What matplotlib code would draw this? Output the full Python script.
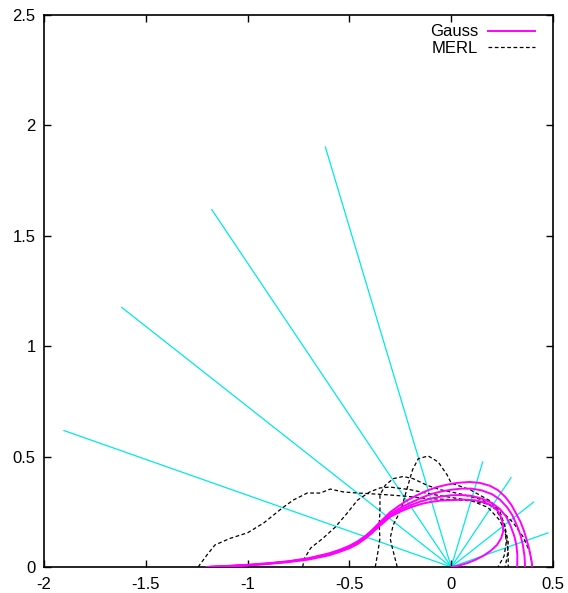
import numpy as np
import matplotlib
matplotlib.use("Agg")
import matplotlib.pyplot as plt
from matplotlib.ticker import FuncFormatter

# incident / reflected directions (degrees from the normal) and ray lengths
ray_angles = [18, 36, 54, 72]
incident_length = 2.0
reflected_length = 0.5

# Gauss model lobes (x, y)
gauss_1_x = [-1.2, -1.1, -1.0, -0.9, -0.8, -0.7, -0.6, -0.55, -0.5, -0.46, -0.42, -0.39, -0.36, -0.33, -0.3,
             -0.26, -0.216, -0.17, -0.118, -0.07, -0.02, 0.03, 0.09, 0.14, 0.19, 0.23, 0.265, 0.295, 0.32, 0.34,
             0.357, 0.37, 0.382, 0.391, 0.396, 0.398]
gauss_1_y = [0.0, 0.005, 0.01, 0.017, 0.026, 0.04, 0.062, 0.077, 0.096, 0.116, 0.142, 0.166, 0.194, 0.221, 0.248,
             0.275, 0.302, 0.324, 0.346, 0.362, 0.373, 0.381, 0.385, 0.381, 0.368, 0.348, 0.318, 0.282, 0.24, 0.205,
             0.165, 0.125, 0.085, 0.045, 0.02, 0.0]
gauss_2_x = [-1.2, -1.1, -1.0, -0.9, -0.8, -0.7, -0.6, -0.55, -0.5, -0.46, -0.42, -0.39, -0.36, -0.33, -0.3,
             -0.25, -0.2, -0.15, -0.1, -0.05, 0.0, 0.05, 0.1, 0.15, 0.2, 0.24, 0.275, 0.3, 0.322, 0.34, 0.352,
             0.36, 0.363]
gauss_2_y = [0.0, 0.004, 0.009, 0.016, 0.025, 0.038, 0.059, 0.074, 0.092, 0.112, 0.138, 0.162, 0.189, 0.214, 0.24,
             0.268, 0.291, 0.312, 0.33, 0.342, 0.35, 0.355, 0.355, 0.347, 0.33, 0.305, 0.27, 0.235, 0.19, 0.145,
             0.1, 0.05, 0.0]
gauss_3_x = [-1.2, -1.1, -1.0, -0.9, -0.8, -0.7, -0.6, -0.55, -0.5, -0.46, -0.42, -0.39, -0.36, -0.33, -0.3,
             -0.25, -0.2, -0.15, -0.1, -0.05, 0.0, 0.05, 0.1, 0.15, 0.2, 0.24, 0.27, 0.292, 0.31, 0.32, 0.325, 0.324]
gauss_3_y = [0.0, 0.004, 0.008, 0.015, 0.024, 0.036, 0.056, 0.071, 0.088, 0.108, 0.134, 0.158, 0.184, 0.208, 0.233,
             0.259, 0.28, 0.297, 0.31, 0.319, 0.325, 0.326, 0.322, 0.31, 0.29, 0.262, 0.228, 0.185, 0.14, 0.1,
             0.055, 0.0]
gauss_4_x = [-1.2, -1.1, -1.0, -0.9, -0.8, -0.7, -0.6, -0.55, -0.5, -0.46, -0.42, -0.39, -0.36, -0.33, -0.3,
             -0.25, -0.2, -0.15, -0.1, -0.05, 0.0, 0.06, 0.118, 0.165, 0.2, 0.228, 0.245, 0.255, 0.255, 0.245,
             0.225, 0.195, 0.16, 0.12, 0.08, 0.04, 0.0]
gauss_4_y = [0.0, 0.003, 0.007, 0.014, 0.022, 0.034, 0.053, 0.068, 0.085, 0.104, 0.13, 0.153, 0.179, 0.203, 0.227,
             0.251, 0.27, 0.285, 0.295, 0.301, 0.303, 0.305, 0.302, 0.292, 0.278, 0.255, 0.225, 0.19, 0.16, 0.13,
             0.1, 0.074, 0.052, 0.033, 0.018, 0.007, 0.0]

# MERL measured lobes (x, y)
merl_1_x = [-1.243, -1.2, -1.16, -1.085, -1.0, -0.92, -0.83, -0.776, -0.707, -0.643, -0.594, -0.53, -0.46,
            -0.363, -0.285, -0.216, -0.118, 0.0, 0.1, 0.18, 0.24, 0.305, 0.354, 0.388, 0.398]
merl_1_y = [0.0, 0.054, 0.1, 0.13, 0.155, 0.2, 0.267, 0.303, 0.335, 0.335, 0.353, 0.34, 0.335,
            0.33, 0.325, 0.32, 0.31, 0.305, 0.3, 0.285, 0.26, 0.2, 0.136, 0.063, 0.0]
merl_2_x = [-0.73, -0.72, -0.69, -0.63, -0.57, -0.51, -0.46, -0.4, -0.35, -0.3, -0.2, -0.1, 0.0, 0.1, 0.18,
            0.24, 0.27, 0.28, 0.28]
merl_2_y = [0.0, 0.04, 0.086, 0.13, 0.18, 0.245, 0.303, 0.34, 0.358, 0.362, 0.35, 0.33, 0.315, 0.3, 0.27,
            0.21, 0.14, 0.07, 0.0]
merl_3_x = [-0.373, -0.36, -0.35, -0.354, -0.35, -0.35, -0.324, -0.285, -0.236, -0.187, -0.118, -0.054, 0.05,
            0.15, 0.22, 0.262, 0.28, 0.276, 0.265]
merl_3_y = [0.0, 0.068, 0.13, 0.19, 0.25, 0.326, 0.37, 0.40, 0.41, 0.40, 0.37, 0.35, 0.33,
            0.305, 0.26, 0.19, 0.113, 0.054, 0.0]
merl_4_x = [-0.265, -0.29, -0.3, -0.285, -0.26, -0.24, -0.216, -0.19, -0.162, -0.113, -0.064, -0.02, 0.0,
            0.093, 0.19, 0.24, 0.265, 0.27, 0.26, 0.23]
merl_4_y = [0.0, 0.09, 0.13, 0.19, 0.235, 0.28, 0.358, 0.44, 0.49, 0.503, 0.476, 0.417, 0.38,
            0.35, 0.3, 0.25, 0.18, 0.11, 0.05, 0.0]

gauss_curves = [(gauss_1_x, gauss_1_y), (gauss_2_x, gauss_2_y), (gauss_3_x, gauss_3_y), (gauss_4_x, gauss_4_y)]
merl_curves = [(merl_1_x, merl_1_y), (merl_2_x, merl_2_y), (merl_3_x, merl_3_y), (merl_4_x, merl_4_y)]

x_ticks = [-2, -1.5, -1, -0.5, 0, 0.5]
y_ticks = [0, 0.5, 1, 1.5, 2, 2.5]

plt.rcParams['font.family'] = ['Liberation Sans', 'DejaVu Sans']
plt.rcParams['font.size'] = 12

fig = plt.figure(figsize=(5.68, 5.93), dpi=100)
ax = fig.add_axes([44 / 568, 1 - 567 / 593, 509 / 568, 552 / 593])

# rays: incident towards upper left, reflected towards upper right
for a in ray_angles:
    t = np.radians(a)
    ax.plot([0, -incident_length * np.sin(t)], [0, incident_length * np.cos(t)],
            color='#00e8e8', lw=0.9, zorder=1)
    ax.plot([0, reflected_length * np.sin(t)], [0, reflected_length * np.cos(t)],
            color='#00e8e8', lw=0.9, zorder=1)

for i, (xs, ys) in enumerate(gauss_curves):
    ax.plot(xs, ys, color='#ff00ff', lw=1.4, zorder=3,
            label='Gauss' if i == 0 else None)

for i, (xs, ys) in enumerate(merl_curves):
    ax.plot(xs, ys, color='black', lw=0.9, dashes=(3, 2), zorder=2,
            label='MERL' if i == 0 else None)

ax.set_xlim(-2, 0.5)
ax.set_ylim(0, 2.5)
ax.set_xticks(x_ticks)
ax.set_yticks(y_ticks)
fmt = FuncFormatter(lambda v, p: '%g' % v)
ax.xaxis.set_major_formatter(fmt)
ax.yaxis.set_major_formatter(fmt)
ax.tick_params(direction='in', top=True, right=True, length=5, width=1, pad=6, labelsize=12)
ax.tick_params(axis='x', pad=7)
for s in ax.spines.values():
    s.set_linewidth(1.2)

ax.legend(loc='upper right', bbox_to_anchor=(0.977, 0.995), frameon=False, markerfirst=False,
          handlelength=2.8, handletextpad=0.6, labelspacing=0.08,
          borderaxespad=0.0, fontsize=12)

fig.savefig('out.png', dpi=100)
